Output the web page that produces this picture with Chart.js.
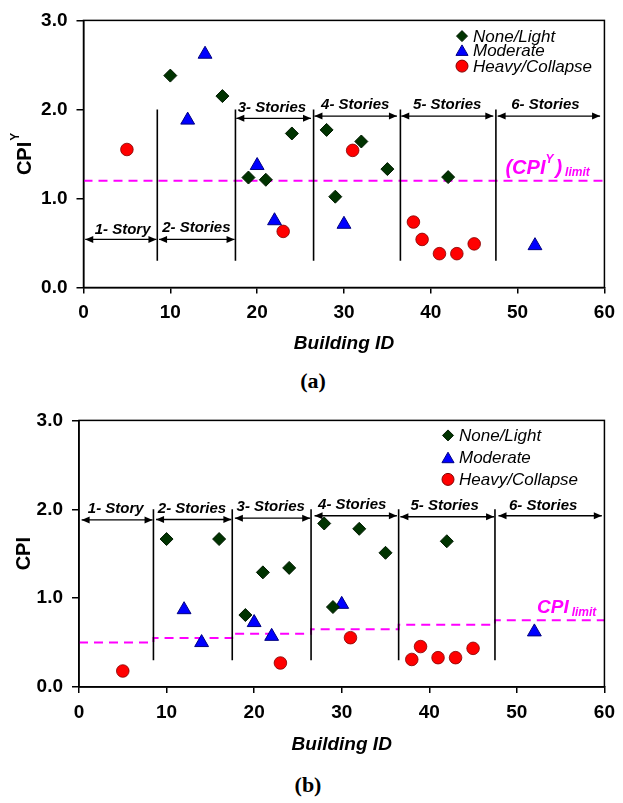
<!DOCTYPE html>
<html>
<head>
<meta charset="utf-8">
<script src="https://cdn.jsdelivr.net/npm/chart.js@4.4.1/dist/chart.umd.min.js"></script>
<style>
  body { margin: 0; background: #fff; width: 623px; height: 803px; position: relative; overflow: hidden; }
  .wrap { position: absolute; left: 0; width: 623px; height: 360px; }
  .cap { position: absolute; font: bold 22px "Liberation Serif", "Times New Roman", serif; transform: translateX(-50%); }
</style>
</head>
<body>
<div class="wrap" style="top:0"><canvas id="chartA" width="623" height="360"></canvas></div>
<div class="cap" style="left:313px; top:368px">(a)</div>
<div class="wrap" style="top:400px"><canvas id="chartB" width="623" height="360"></canvas></div>
<div class="cap" style="left:308px; top:772px">(b)</div>
<script>
// shared
var seriesNames = ['None/Light', 'Moderate', 'Heavy/Collapse'];
var storyNames = ['1- Story', '2- Stories', '3- Stories', '4- Stories', '5- Stories', '6- Stories'];
var separatorsX = [8.5, 17.5, 26.5, 36.5, 47.5];
var separatorBottom = 0.3;
var separatorTop = 2.0;
var xTicks = [0, 10, 20, 30, 40, 50, 60];
var yTicks = [0, 1, 2, 3];

// chart (a): CPI^Y
var aNoneX = [10, 16, 19, 21, 24, 28, 29, 32, 35, 42];
var aNoneY = [2.38, 2.15, 1.235, 1.21, 1.73, 1.77, 1.02, 1.64, 1.33, 1.24];
var aModX = [12, 14, 20, 22, 30, 52];
var aModY = [1.88, 2.62, 1.37, 0.75, 0.71, 0.47];
var aHeavyX = [5, 23, 31, 38, 39, 41, 43, 45];
var aHeavyY = [1.55, 0.63, 1.54, 0.735, 0.54, 0.38, 0.38, 0.49];
var aLimitX = [0, 60];
var aLimitY = [1.2, 1.2];
var aArrowStart = [0.2, 8.7, 17.6, 26.6, 36.6, 47.7];
var aArrowEnd = [8.4, 17.4, 26.2, 36.1, 47.2, 59.5];
var aArrowY = [0.54, 0.54, 1.9, 1.925, 1.925, 1.925];
var aLabelX = [4.5, 13.0, 21.7, 31.3, 41.9, 53.2];
var aLabelY = [0.65, 0.67, 2.02, 2.05, 2.05, 2.05];

// chart (b): CPI
var bNoneX = [10, 16, 19, 21, 24, 28, 29, 32, 35, 42];
var bNoneY = [1.665, 1.665, 0.81, 1.29, 1.34, 1.84, 0.9, 1.78, 1.51, 1.64];
var bModX = [12, 14, 20, 22, 30, 52];
var bModY = [0.87, 0.5, 0.725, 0.57, 0.93, 0.62];
var bHeavyX = [5, 23, 31, 38, 39, 41, 43, 45];
var bHeavyY = [0.18, 0.27, 0.555, 0.31, 0.455, 0.33, 0.33, 0.435];
var bLimitX = [0, 8.5, 17.5, 26.5, 36.5, 47.5, 60];
var bLimitY = [0.5, 0.55, 0.6, 0.65, 0.7, 0.75, 0.75];
var bArrowStart = [0.3, 8.8, 17.8, 26.9, 36.7, 47.9];
var bArrowEnd = [8.4, 17.4, 26.4, 36.3, 47.4, 59.7];
var bArrowY = [1.88, 1.885, 1.9, 1.927, 1.916, 1.927];
var bLabelX = [4.2, 12.9, 21.9, 31.2, 41.75, 53.0];
var bLabelY = [2.0, 2.0, 2.03, 2.055, 2.04, 2.04];

var SANS = '"Liberation Sans", Arial, sans-serif';
var GREEN = '#003300', BLUE = '#0000ff', RED = '#ff0000', MAGENTA = '#ff00ff';

function pts(xs, ys) {
    return xs.map(function(x, i) { return {x: x, y: ys[i]}; });
}

function marker(ctx, style, x, y, r, fill, stroke) {
    ctx.save();
    ctx.fillStyle = fill;
    ctx.strokeStyle = stroke;
    ctx.lineWidth = 1;
    ctx.beginPath();
    if (style === 'rectRot') {
        ctx.moveTo(x, y - r); ctx.lineTo(x + r, y); ctx.lineTo(x, y + r); ctx.lineTo(x - r, y);
    } else if (style === 'triangle') {
        ctx.moveTo(x, y - r); ctx.lineTo(x + r * 0.866, y + r / 2); ctx.lineTo(x - r * 0.866, y + r / 2);
    } else {
        ctx.arc(x, y, r, 0, Math.PI * 2);
    }
    ctx.closePath();
    ctx.fill();
    ctx.stroke();
    ctx.restore();
}

function makeChart(id, c) {
    var sepData = [];
    separatorsX.forEach(function(s) {
        sepData.push({x: s, y: separatorBottom}, {x: s, y: separatorTop}, {x: s, y: null});
    });
    var arrowData = [];
    c.arrowStart.forEach(function(s, i) {
        arrowData.push({x: s, y: c.arrowY[i]}, {x: c.arrowEnd[i], y: c.arrowY[i]}, {x: c.arrowEnd[i], y: null});
    });

    var decor = {
        id: 'decor',
        afterDraw: function(chart) {
            var ctx = chart.ctx, a = chart.chartArea;
            var xs = chart.scales.x, ys = chart.scales.y;
            ctx.save();
            // frame
            ctx.strokeStyle = '#000';
            ctx.lineWidth = 1.5;
            ctx.strokeRect(a.left, a.top, a.right - a.left, a.bottom - a.top);

            // arrow heads
            ctx.fillStyle = '#000';
            c.arrowStart.forEach(function(s, i) {
                var y = ys.getPixelForValue(c.arrowY[i]);
                var x1 = xs.getPixelForValue(s), x2 = xs.getPixelForValue(c.arrowEnd[i]);
                ctx.beginPath();
                ctx.moveTo(x1, y); ctx.lineTo(x1 + 8, y - 3.5); ctx.lineTo(x1 + 8, y + 3.5); ctx.closePath(); ctx.fill();
                ctx.beginPath();
                ctx.moveTo(x2, y); ctx.lineTo(x2 - 8, y - 3.5); ctx.lineTo(x2 - 8, y + 3.5); ctx.closePath(); ctx.fill();
            });

            // story labels
            ctx.font = 'italic bold 15px ' + SANS;
            ctx.textAlign = 'center';
            ctx.textBaseline = 'middle';
            storyNames.forEach(function(n, i) {
                ctx.fillText(n, xs.getPixelForValue(c.labelX[i]), ys.getPixelForValue(c.labelY[i]));
            });

            // limit label
            ctx.fillStyle = MAGENTA;
            ctx.textAlign = 'left';
            ctx.textBaseline = 'alphabetic';
            var lx = xs.getPixelForValue(c.limitLabelX), ly = ys.getPixelForValue(c.limitLabelY);
            c.limitParts.forEach(function(p) {
                ctx.font = 'italic bold ' + p.size + 'px ' + SANS;
                ctx.fillText(p.t, lx, ly + p.dy);
                lx += ctx.measureText(p.t).width + (p.gap || 0);
            });

            // y title
            ctx.fillStyle = '#000';
            ctx.save();
            ctx.translate(c.yTitleX, (a.top + a.bottom) / 2);
            ctx.rotate(-Math.PI / 2);
            ctx.font = 'bold 20px ' + SANS;
            var w1 = ctx.measureText(c.yTitle).width;
            ctx.font = 'bold 12px ' + SANS;
            var w2 = c.yTitleSup ? ctx.measureText(c.yTitleSup).width + 1 : 0;
            ctx.textBaseline = 'middle';
            ctx.font = 'bold 20px ' + SANS;
            ctx.fillText(c.yTitle, -(w1 + w2) / 2, 0);
            if (c.yTitleSup) {
                ctx.font = 'bold 12px ' + SANS;
                ctx.fillText(c.yTitleSup, -(w1 + w2) / 2 + w1 + 1, -9);
            }
            ctx.restore();

            // x title
            ctx.font = 'italic bold 19px ' + SANS;
            ctx.textAlign = 'center';
            ctx.textBaseline = 'middle';
            ctx.fillText('Building ID', (a.left + a.right) / 2, a.bottom + c.xTitleOffset);

            // legend
            var styles = ['rectRot', 'triangle', 'circle'];
            var fills = [GREEN, BLUE, RED];
            var strokes = ['#001a00', '#000080', '#800000'];
            var radii = [5.5, 7, 6];
            ctx.font = 'italic 17px ' + SANS;
            ctx.textAlign = 'left';
            seriesNames.forEach(function(n, i) {
                var y = a.top + c.legendY[i];
                marker(ctx, styles[i], c.legendX, i === 1 ? y + 1.5 : y, radii[i], fills[i], strokes[i]);
                ctx.fillStyle = '#000';
                ctx.fillText(n, c.legendX + 11, y + 1);
            });
            ctx.restore();
        }
    };

    return new Chart(document.getElementById(id), {
        type: 'scatter',
        data: {
            datasets: [
                {label: seriesNames[0], data: pts(c.noneX, c.noneY), pointStyle: 'rectRot', pointRadius: 6.5,
                 backgroundColor: GREEN, borderColor: '#001a00', borderWidth: 1, order: 1},
                {label: seriesNames[1], data: pts(c.modX, c.modY), pointStyle: 'triangle', pointRadius: 8,
                 backgroundColor: BLUE, borderColor: '#000080', borderWidth: 1, order: 1},
                {label: seriesNames[2], data: pts(c.heavyX, c.heavyY), pointStyle: 'circle', pointRadius: 6.3,
                 backgroundColor: RED, borderColor: '#800000', borderWidth: 0.8, order: 1},
                {type: 'line', label: 'limit', data: pts(c.limitX, c.limitY), stepped: c.stepped,
                 borderColor: MAGENTA, borderWidth: 2, borderDash: [9, 6], pointRadius: 0, fill: false, order: 3},
                {type: 'line', label: 'separators', data: sepData, borderColor: '#000', borderWidth: 1.6,
                 pointRadius: 0, spanGaps: false, fill: false, order: 2},
                {type: 'line', label: 'arrows', data: arrowData, borderColor: '#000', borderWidth: 1.3,
                 pointRadius: 0, spanGaps: false, fill: false, order: 2}
            ]
        },
        options: {
            responsive: false,
            animation: false,
            events: [],
            layout: {padding: {left: 0, top: c.top, right: 623 - c.right, bottom: 0}},
            plugins: {legend: {display: false}, tooltip: {enabled: false}},
            scales: {
                x: {
                    type: 'linear', min: 0, max: 60,
                    afterBuildTicks: function(s) { s.ticks = xTicks.map(function(v) { return {value: v}; }); },
                    afterFit: function(s) { s.height = 360 - c.bottom; },
                    ticks: {color: '#000', font: {family: SANS, size: 19, weight: 'bold'}, padding: 8, maxRotation: 0},
                    grid: {drawOnChartArea: false, drawTicks: true, tickLength: 6, color: '#000', lineWidth: 1.5},
                    border: {display: true, color: '#000', width: 1.5}
                },
                y: {
                    type: 'linear', min: 0, max: 3,
                    afterBuildTicks: function(s) { s.ticks = yTicks.map(function(v) { return {value: v}; }); },
                    afterFit: function(s) { s.width = c.left; },
                    ticks: {color: '#000', font: {family: SANS, size: 19, weight: 'bold'}, padding: 9,
                            callback: function(v) { return Number(v).toFixed(1); }},
                    grid: {drawOnChartArea: false, drawTicks: true, tickLength: 7, color: '#000', lineWidth: 1.5},
                    border: {display: true, color: '#000', width: 1.5}
                }
            }
        },
        plugins: [decor]
    });
}

makeChart('chartA', {
    noneX: aNoneX, noneY: aNoneY, modX: aModX, modY: aModY, heavyX: aHeavyX, heavyY: aHeavyY,
    limitX: aLimitX, limitY: aLimitY, stepped: false,
    arrowStart: aArrowStart, arrowEnd: aArrowEnd, arrowY: aArrowY, labelX: aLabelX, labelY: aLabelY,
    left: 83.5, right: 607.5, top: 16, bottom: 287.5,
    yTitle: 'CPI', yTitleSup: 'Y', yTitleX: 25, xTitleOffset: 56,
    limitLabelX: 48.6, limitLabelY: 1.28,
    limitParts: [{t: '(CPI', size: 20, dy: 0}, {t: 'Y', size: 12, dy: -11, gap: 2}, {t: ')', size: 20, dy: 0, gap: 3}, {t: 'limit', size: 12, dy: 2}],
    legendX: 462, legendY: [15.7, 30, 45.7]
});

makeChart('chartB', {
    noneX: bNoneX, noneY: bNoneY, modX: bModX, modY: bModY, heavyX: bHeavyX, heavyY: bHeavyY,
    limitX: bLimitX, limitY: bLimitY, stepped: 'before',
    arrowStart: bArrowStart, arrowEnd: bArrowEnd, arrowY: bArrowY, labelX: bLabelX, labelY: bLabelY,
    left: 79, right: 606, top: 15, bottom: 287,
    yTitle: 'CPI', yTitleSup: '', yTitleX: 24, xTitleOffset: 58,
    limitLabelX: 52.3, limitLabelY: 0.83,
    limitParts: [{t: 'CPI', size: 19, dy: 0, gap: 3}, {t: 'limit', size: 12, dy: 3}],
    legendX: 448, legendY: [15, 37.3, 59]
});
</script>
</body>
</html>
